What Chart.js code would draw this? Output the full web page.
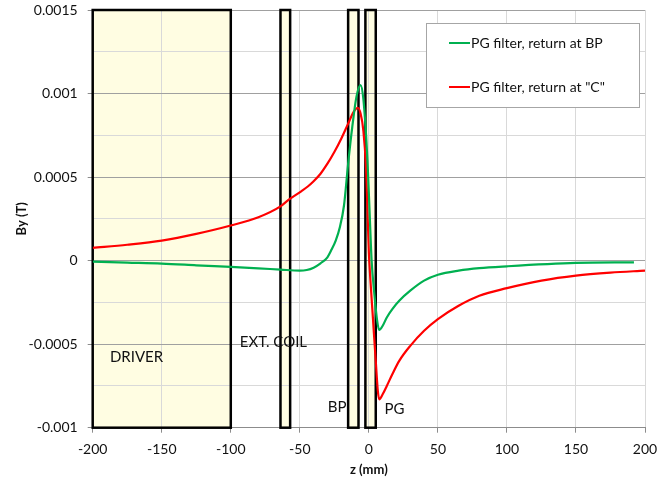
<!DOCTYPE html>
<html>
<head>
<meta charset="utf-8">
<title>By along z</title>
<script src="https://cdn.jsdelivr.net/npm/chart.js@4"></script>
<style>
  body { margin: 0; background: #fff; }
  #byChart { display: block; }
</style>
</head>
<body>
<canvas id="byChart" width="657" height="480"></canvas>
<script>
// By (T) along z (mm), PG filter returning at BP
const bpZ = [-200, -175, -150, -125, -100, -80, -64, -50, -45, -40, -35, -30, -27, -24, -21, -18, -15, -12, -9, -6, -4, -2, -1, 0.5, 2, 4, 6, 7.5, 10, 13, 17, 22, 30, 40, 50, 65, 80, 100, 150, 192];
const bpBy = [-0.000006, -0.000012, -0.000018, -0.000028, -0.000038, -0.000046, -0.000054, -0.00006, -0.000056, -0.000042, -0.000016, 0.00002, 0.000066, 0.00012, 0.0002, 0.00033, 0.00058, 0.0008, 0.00098, 0.00105, 0.00097, 0.00075, 0.0006, 0.0003, 0, -0.0002, -0.00036, -0.000415, -0.00039, -0.00034, -0.00029, -0.00024, -0.00018, -0.00012, -0.000085, -0.00006, -0.000045, -0.000034, -0.000014, -0.00001];

// same, PG filter returning at "C"
const cZ = [-200, -175, -150, -125, -100, -80, -64, -58, -49, -44, -40, -35, -30, -25, -20, -15, -11, -8, -6, -4, -2, -1, 0, 1, 3, 5, 6.5, 7.5, 10, 13, 17, 22, 30, 40, 50, 65, 80, 100, 125, 150, 175, 200];
const cBy = [0.000076, 0.000095, 0.00012, 0.00016, 0.00021, 0.00026, 0.000325, 0.000365, 0.000415, 0.000445, 0.000475, 0.00052, 0.00058, 0.00065, 0.00073, 0.00082, 0.00089, 0.000915, 0.00088, 0.00078, 0.00055, 0.0003, 0.00005, -0.0001, -0.00035, -0.0006, -0.00078, -0.00083, -0.0008, -0.00075, -0.00068, -0.0006, -0.00051, -0.00042, -0.00035, -0.00027, -0.00021, -0.000165, -0.00012, -0.00009, -0.000072, -0.00006];

const seriesNames = ['PG filter, return at BP', 'PG filter, return at "C"'];

// hardware regions along z (mm)
const zoneNames = ['DRIVER', 'EXT. COIL', 'BP', 'PG'];
const zoneStart = [-200, -64, -15, -2.5];
const zoneEnd = [-100, -57, -7.5, 5];

const xTicks = [-200, -150, -100, -50, 0, 50, 100, 150, 200];
const yTicks = [-0.001, -0.00075, -0.0005, -0.00025, 0, 0.00025, 0.0005, 0.00075, 0.001, 0.00125, 0.0015];
const yTickLabels = ['-0.001', '', '-0.0005', '', '0', '', '0.0005', '', '0.001', '', '0.0015'];

// where each region name sits (left edge of text, vertical middle), in axis units
const zoneLabelAt = [[-187.5, -0.000575], [-93.5, -0.00049], [-29.8, -0.00088], [11.4, -0.00089]];

const GREEN = '#00b050';
const RED = '#ff0000';
const FONT = 'Lato, "Liberation Sans", sans-serif';

const zip = (xs, ys) => xs.map((x, i) => ({ x, y: ys[i] }));

const zonePlugin = {
  id: 'zones',
  beforeDraw(chart) {
    const { ctx, scales: { x, y } } = chart;
    ctx.save();
    ctx.fillStyle = '#fffde2';
    zoneStart.forEach((z0, i) => {
      const left = x.getPixelForValue(z0);
      const right = x.getPixelForValue(zoneEnd[i]);
      const top = y.getPixelForValue(y.max);
      const bottom = y.getPixelForValue(y.min);
      ctx.fillRect(left, top, right - left, bottom - top);
    });
    ctx.restore();
  },
  beforeDatasetsDraw(chart) {
    const { ctx, scales: { x, y } } = chart;
    ctx.save();
    ctx.strokeStyle = '#000';
    ctx.lineWidth = 2.5;
    zoneStart.forEach((z0, i) => {
      const left = x.getPixelForValue(z0);
      const right = x.getPixelForValue(zoneEnd[i]);
      const top = y.getPixelForValue(y.max);
      const bottom = y.getPixelForValue(y.min);
      ctx.strokeRect(left, top, right - left, bottom - top);
    });
    ctx.fillStyle = '#111';
    ctx.font = '15px ' + FONT;
    ctx.textBaseline = 'middle';
    ctx.textAlign = 'left';
    zoneNames.forEach((name, i) => {
      const [zx, zy] = zoneLabelAt[i];
      ctx.fillText(name, x.getPixelForValue(zx), y.getPixelForValue(zy));
    });
    ctx.restore();
  },
  afterDraw(chart) {
    // legend box in the upper right of the plot
    const { ctx, chartArea } = chart;
    const boxW = 213, boxH = 84;
    const left = chartArea.right - boxW - 6;
    const top = chartArea.top + 13;
    ctx.save();
    ctx.fillStyle = '#fff';
    ctx.fillRect(left, top, boxW, boxH);
    ctx.strokeStyle = '#a6a6a6';
    ctx.lineWidth = 1;
    ctx.strokeRect(left + 0.5, top + 0.5, boxW, boxH);
    ctx.font = '14px ' + FONT;
    ctx.textBaseline = 'middle';
    ctx.fillStyle = '#111';
    chart.data.datasets.forEach((ds, i) => {
      const rowY = top + 20 + i * 44;
      ctx.strokeStyle = ds.borderColor;
      ctx.lineWidth = 2;
      ctx.beginPath();
      ctx.moveTo(left + 23, rowY);
      ctx.lineTo(left + 44, rowY);
      ctx.stroke();
      ctx.fillText(ds.label, left + 45, rowY);
    });
    ctx.restore();
  }
};

Chart.defaults.font.family = FONT;
Chart.defaults.color = '#111';

new Chart(document.getElementById('byChart'), {
  type: 'line',
  data: {
    datasets: [
      { label: seriesNames[0], data: zip(bpZ, bpBy), borderColor: GREEN, borderWidth: 2.2, pointRadius: 0, cubicInterpolationMode: 'monotone' },
      { label: seriesNames[1], data: zip(cZ, cBy), borderColor: RED, borderWidth: 2.2, pointRadius: 0, cubicInterpolationMode: 'monotone' }
    ]
  },
  options: {
    responsive: false,
    animation: false,
    layout: { padding: { top: 10, right: 12, left: 0, bottom: 0 } },
    plugins: { legend: { display: false }, tooltip: { enabled: false } },
    scales: {
      x: {
        type: 'linear',
        min: -200,
        max: 200,
        afterBuildTicks: (scale) => { scale.ticks = xTicks.map(value => ({ value })); },
        afterFit: (scale) => {
          scale.height = 52.3;
          scale.paddingLeft = 0;
          scale.paddingRight = 0;
        },
        ticks: { font: { size: 14 }, padding: 8, maxRotation: 0, autoSkip: false, callback: (v) => String(v) },
        grid: { color: '#d9d9d9', tickColor: '#8c8c8c', tickLength: 5 },
        border: { color: '#8c8c8c' },
        title: { display: true, text: 'z (mm)', font: { size: 13, weight: 'bold' }, padding: { top: 0, bottom: 2 } }
      },
      y: {
        type: 'linear',
        min: -0.001,
        max: 0.0015,
        afterBuildTicks: (scale) => { scale.ticks = yTicks.map(value => ({ value })); },
        afterFit: (scale) => {
          scale.width = 92.7;
          scale.paddingTop = 0;
          scale.paddingBottom = 0;
        },
        ticks: { font: { size: 14 }, padding: 10, autoSkip: false, callback: (v, i) => yTickLabels[i] },
        grid: {
          color: (c) => yTickLabels[c.index] ? '#a0a0a0' : '#d9d9d9',
          tickColor: (c) => yTickLabels[c.index] ? '#8c8c8c' : 'rgba(0,0,0,0)',
          tickLength: 5
        },
        border: { color: '#8c8c8c' },
        title: { display: true, text: 'By (T)', font: { size: 13, weight: 'bold' }, padding: { top: 14, bottom: 0 } }
      }
    }
  },
  plugins: [zonePlugin]
});
</script>
</body>
</html>
